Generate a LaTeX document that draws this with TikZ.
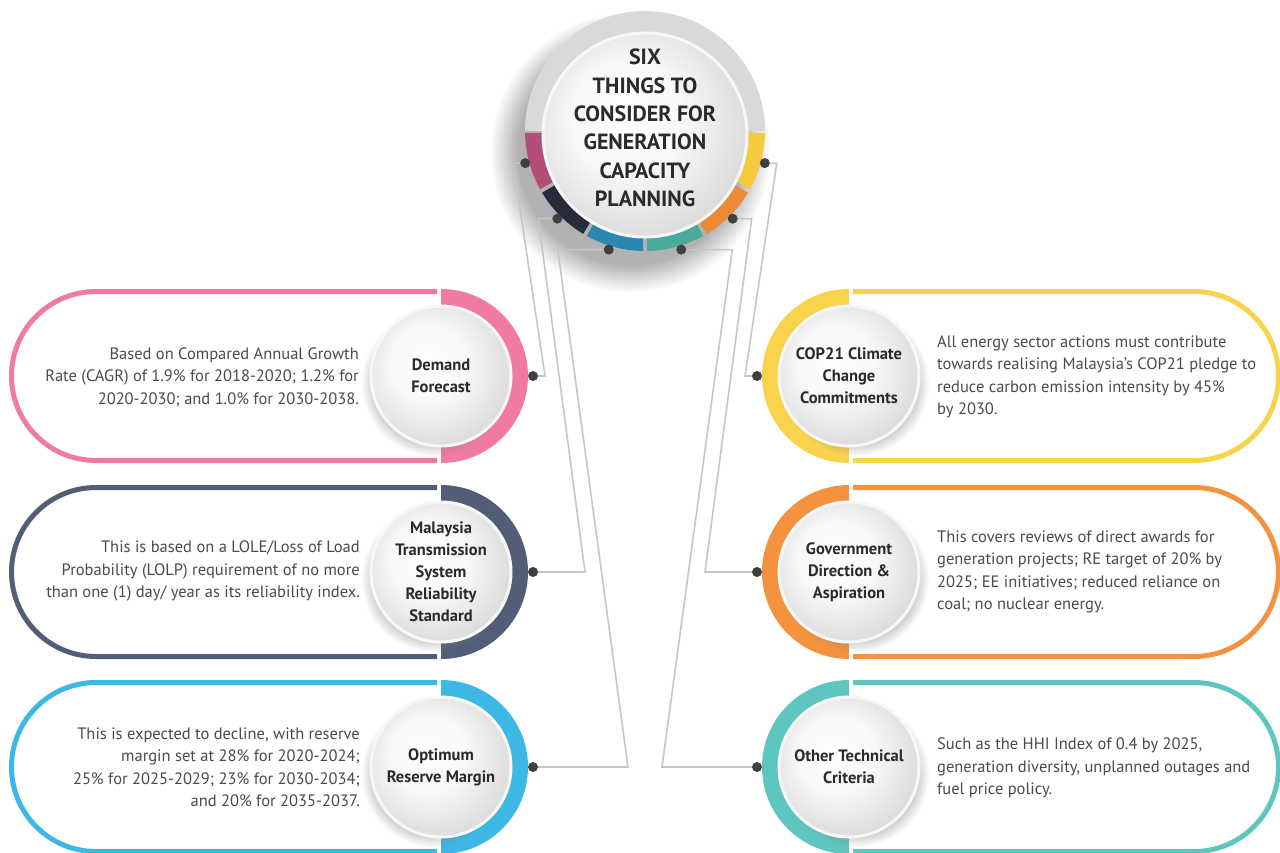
\documentclass[tikz,border=0pt]{standalone}
\usepackage{fontspec}
\setmainfont{PT Sans}
\usetikzlibrary{shadows,fadings}

\definecolor{dotgray}{HTML}{3F4040}
\definecolor{linegray}{HTML}{C9C5C2}
\definecolor{bodygray}{HTML}{4A4A4A}
\definecolor{labelc}{HTML}{2A2A2A}
\definecolor{ringgray}{HTML}{D9D9D9}
\definecolor{pinkc}{HTML}{F07AA0}
\definecolor{slatec}{HTML}{515E76}
\definecolor{bluec}{HTML}{3DB8E5}
\definecolor{yellowc}{HTML}{F9D34C}
\definecolor{orangec}{HTML}{F4923F}
\definecolor{tealc}{HTML}{5FC5BF}
\definecolor{segpink}{HTML}{B44D77}
\definecolor{segnavy}{HTML}{262C3A}
\definecolor{segblue}{HTML}{2A87B0}
\definecolor{segteal}{HTML}{49AA9B}
\definecolor{segorange}{HTML}{EA8A35}
\definecolor{segyellow}{HTML}{F5CA3F}

\pgfdeclareradialshading{btnface}{\pgfpoint{-6bp}{6bp}}{color(0bp)=(white); color(14bp)=(white!97!black); color(31bp)=(white!84!black); color(50bp)=(white!84!black)}

\tikzset{
	btn/.style={circle, minimum size=140pt, inner sep=0pt, shade, shading=btnface, draw=white!97!black, line width=3pt, align=center, text=labelc, font=\bfseries\fontsize{16.5}{22}\selectfont},
	btnleft/.style={btn, circular drop shadow={shadow xshift=-7pt, shadow yshift=-7pt, shadow scale=1.04, opacity=.35}},
	btnright/.style={btn, circular drop shadow={shadow xshift=7pt, shadow yshift=-7pt, shadow scale=1.04, opacity=.35}},
	hub/.style={circle, minimum size=204pt, inner sep=0pt, shade, shading=btnface, draw=white!97!black, line width=3pt},
	title/.style={align=center, text=labelc, font=\bfseries\fontsize{22}{28.4}\selectfont},
	dot/.style={circle, fill=dotgray, inner sep=0pt, minimum size=10pt},
	link/.style={draw=linegray, line width=1.6pt},
	body/.style={inner sep=0pt, text=bodygray, font=\fontsize{16.5}{22.5}\selectfont},
	capsule/.style={line width=5pt}
}

\begin{document}
\begin{tikzpicture}[x=1pt, y=-1pt]
	\useasboundingbox (0,0) rectangle (1280,852);
	\foreach \y/\c in {376/pinkc, 572/slatec, 767/bluec} {
		\draw[capsule, \c] (437,\y-84.5) -- (96,\y-84.5) arc[start angle=270, end angle=90, radius=84.5] -- (437,\y+84.5);
		\fill[\c] (441,\y-87) arc[start angle=270, end angle=450, radius=87] -- cycle;
	}
	\foreach \y/\c in {376/yellowc, 572/orangec, 767/tealc} {
		\draw[capsule, \c] (853,\y-84.5) -- (1194,\y-84.5) arc[start angle=270, end angle=450, radius=84.5] -- (853,\y+84.5);
		\fill[\c] (849,\y-87) arc[start angle=270, end angle=90, radius=87] -- cycle;
	}
	\fill[black, opacity=.3, path fading=circle with fuzzy edge 20 percent] (630,152) circle[radius=140];
	\fill[ringgray] (525,131) arc[start angle=180, end angle=360, radius=120] -- cycle;
	\foreach \a/\c in {150/segpink, 120/segnavy, 90/segblue, 60/segteal, 30/segorange, 0/segyellow}
		\fill[\c] (645,131) -- ++(\a+1:120) arc[start angle=\a+1, end angle=\a+29, radius=120] -- cycle;
	\node[hub] (hub) at (645,135) {};
	\node[title] (title) at (645,128) {SIX\\THINGS TO\\CONSIDER FOR\\GENERATION\\CAPACITY\\PLANNING};
	\foreach \a/\n in {165/c1, 135/c2, 107/c3, 73/c4, 45/c5, 15/c6}
		\path (645,131) ++(\a:124) coordinate (\n);
	\coordinate (d1) at (533,376);
	\coordinate (d2) at (533,572);
	\coordinate (d3) at (533,767);
	\coordinate (e1) at (757,376);
	\coordinate (e2) at (757,572);
	\coordinate (e3) at (757,767);
	\draw[link] (c1) -- ++(-12,0) -- (545,376) -- (d1);
	\draw[link] (c2) -- ++(-19,0) -- (585,572) -- (d2);
	\draw[link] (c3) -- ++(-51,0) -- (628,767) -- (d3);
	\draw[link] (c6) -- ++(12,0) -- (745,376) -- (e1);
	\draw[link] (c5) -- ++(19,0) -- (705,572) -- (e2);
	\draw[link] (c4) -- ++(51,0) -- (662,767) -- (e3);
	\foreach \n in {c1,c2,c3,c4,c5,c6,d1,d2,d3,e1,e2,e3}
		\node[dot] (\n-dot) at (\n) {};
	\node[btnleft] (demand) at (441,376) {Demand\\Forecast};
	\node[btnleft] (reliability) at (441,572) {Malaysia\\Transmission\\System\\Reliability\\Standard};
	\node[btnleft] (reserve) at (441,767) {Optimum\\Reserve Margin};
	\node[btnright] (climate) at (849,376) {COP21 Climate\\Change\\Commitments};
	\node[btnright] (policy) at (849,572) {Government\\Direction \&\\Aspiration};
	\node[btnright] (technical) at (849,767) {Other Technical\\Criteria};
	\node[body, anchor=east, align=right] (demandtext) at (359,377) {Based on Compared Annual Growth\\Rate (CAGR) of 1.9\% for 2018-2020; 1.2\% for\\2020-2030; and 1.0\% for 2030-2038.};
	\node[body, anchor=east, align=right] (reliabilitytext) at (360,571) {This is based on a LOLE/Loss of Load\\Probability (LOLP) requirement of no more\\than one (1) day/ year as its reliability index.};
	\node[body, anchor=east, align=right] (reservetext) at (360,767) {This is expected to decline, with reserve\\margin set at 28\% for 2020-2024;\\25\% for 2025-2029; 23\% for 2030-2034;\\and 20\% for 2035-2037.};
	\node[body, anchor=west, align=left] (climatetext) at (937,377) {All energy sector actions must contribute\\towards realising Malaysia’s COP21 pledge to\\reduce carbon emission intensity by 45\%\\by 2030.};
	\node[body, anchor=west, align=left] (policytext) at (937,572) {This covers reviews of direct awards for\\generation projects; RE target of 20\% by\\2025; EE initiatives; reduced reliance on\\coal; no nuclear energy.};
	\node[body, anchor=west, align=left] (technicaltext) at (937,768) {Such as the HHI Index of 0.4 by 2025,\\generation diversity, unplanned outages and\\fuel price policy.};
\end{tikzpicture}
\end{document}
